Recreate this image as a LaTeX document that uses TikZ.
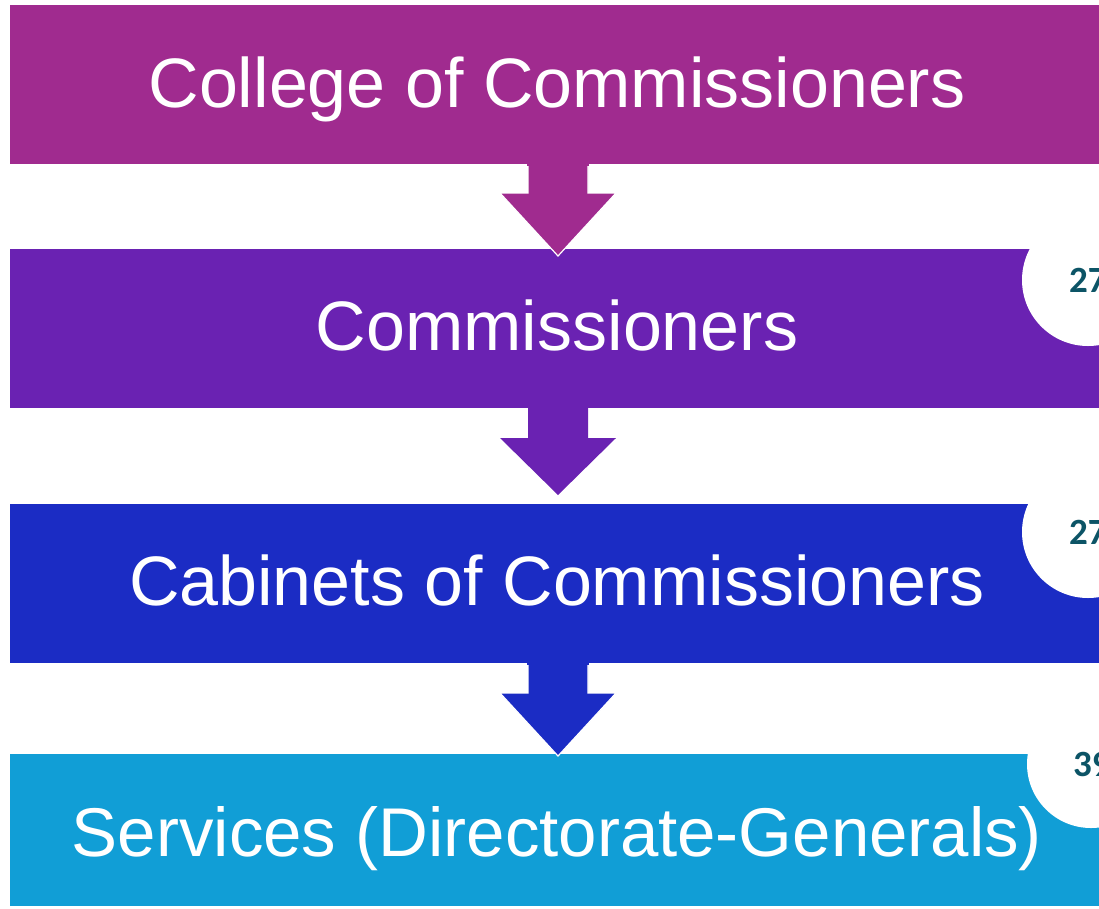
\documentclass[tikz,border=0pt]{standalone}
\usepackage{fontspec}
\setmainfont{Liberation Sans}
\newfontfamily\numfont{Carlito}
\definecolor{cA}{RGB}{160,43,143}
\definecolor{cB}{RGB}{106,34,178}
\definecolor{cC}{RGB}{27,44,196}
\definecolor{cD}{RGB}{17,158,214}
\definecolor{tealnum}{RGB}{12,84,102}
\tikzset{
  bandtext/.style={text=white, font=\fontsize{70}{80}\selectfont, inner sep=0pt, anchor=base},
  badge/.style={circle, fill=white, inner sep=0pt, outer sep=0pt},
  badgetext/.style={text=tealnum, font=\numfont\bfseries\fontsize{37}{40}\selectfont, inner sep=0pt, anchor=west},
  arrowfill/.style={line width=1.2pt, draw=white, line join=miter}
}
\begin{document}
\begin{tikzpicture}[x=1pt,y=-1pt]
\useasboundingbox (0,0) rectangle (1099,908);
\clip (0,0) rectangle (1099,908);
% bands
\fill[cA] (10,5) rectangle (1110,164);
\fill[cB] (10,249) rectangle (1110,408);
\fill[cC] (10,504) rectangle (1110,663);
\fill[cD] (10,754) rectangle (1110,906);
% badges
\node[badge, minimum size=132pt] (c2) at (1088,280) {};
\node[badge, minimum size=132pt] (c3) at (1088,532) {};
\node[badge, minimum size=128pt] (c4) at (1091,764) {};
\node[badgetext] (n2) at (1069,280) {27};
\node[badgetext] (n3) at (1069,532) {27};
\node[badgetext] (n4) at (1073,764) {39};
% arrows
\fill[cA] (528,163) -- (528,193) -- (500,193) -- (558,256) -- (616,193) -- (588,193) -- (588,163) -- cycle;
\draw[arrowfill] (528,165) -- (528,193) -- (500,193) -- (558,256) -- (616,193) -- (588,193) -- (588,165);
\fill[cA] (527.4,162) rectangle (588.6,165.5);
\fill[cB] (528,407) -- (528,438) -- (500,438) -- (558,495) -- (616,438) -- (588,438) -- (588,407) -- cycle;
\fill[cC] (528,662) -- (528,693) -- (500,693) -- (558,756) -- (616,693) -- (588,693) -- (588,662) -- cycle;
\draw[arrowfill] (528,664) -- (528,693) -- (500,693) -- (558,756) -- (616,693) -- (588,693) -- (588,664);
\fill[cC] (527.4,661) rectangle (588.6,664.5);
% texts
\node[bandtext] (t1) at (557,107) {College of Commissioners};
\node[bandtext] (t2) at (557,350) {Commissioners};
\node[bandtext] (t3) at (557,605) {Cabinets of Commissioners};
\node[bandtext, font=\fontsize{69}{80}\selectfont] (t4) at (557,856) {Services (Directorate-Generals)};
\end{tikzpicture}
\end{document}
